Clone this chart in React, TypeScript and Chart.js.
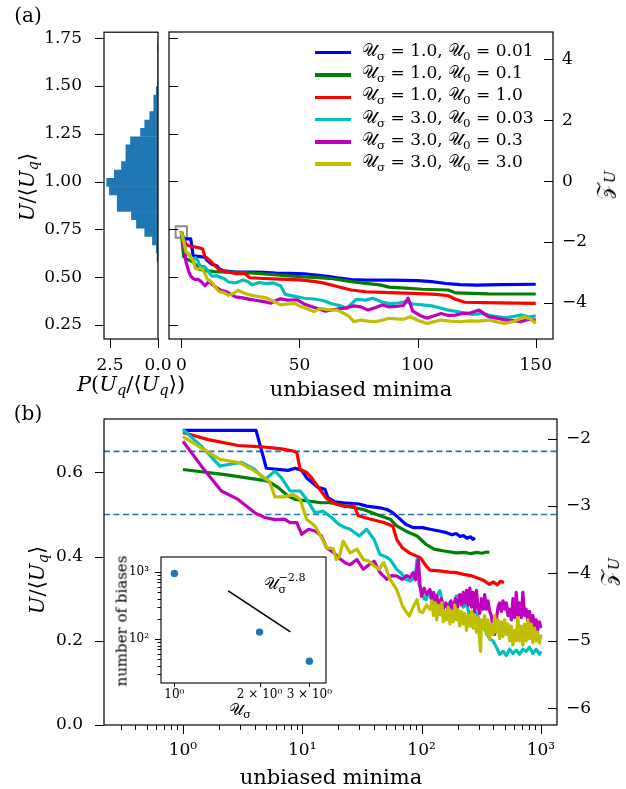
import React, { useEffect, useRef } from 'react';
import { Chart, registerables } from 'chart.js';
Chart.register(...registerables);

const W = 626;
const H = 789;
const FONT = "'DejaVu Serif', 'DejaVu Sans', serif";

// ---------- histogram (panel a, left) ----------
const HIST_CENTERS = [0.604, 0.648, 0.691, 0.735, 0.778, 0.822, 0.865, 0.909, 0.952, 0.996, 1.039, 1.083, 1.126, 1.170, 1.213, 1.257, 1.300, 1.344, 1.387, 1.431, 1.474, 1.518, 1.561, 1.605, 1.648, 1.692, 1.735];
const HIST_VALUES = [0.05, 0.09, 0.29, 0.69, 1.12, 1.38, 2.12, 2.12, 2.53, 2.67, 2.27, 1.9, 1.67, 1.67, 1.43, 0.91, 0.69, 0.43, 0.22, 0.22, 0.09, 0.02, 0.01, 0.01, 0.01, 0.03, 0.01];
const HIST_X_TICKS = [2.5, 0];

// ---------- panel a, main ----------
const U_TICKS_A = [0.25, 0.5, 0.75, 1.0, 1.25, 1.5, 1.75];
const Z_TICKS_A = [4, 2, 0, -2, -4];
const X_TICKS_A = [0, 50, 100, 150];
const SQUARE_A = [[0, 0.736]];

const A_BLUE = [[0,0.74],[1,0.70],[4,0.70],[5,0.612],[8,0.607],[10,0.604],[11,0.587],[13,0.567],[15,0.56],[16,0.545],[18,0.533],[22,0.528],[30,0.527],[35,0.525],[40,0.521],[46,0.52],[52,0.518],[58,0.51],[62,0.505],[66,0.496],[72,0.488],[78,0.485],[89,0.485],[100,0.482],[106,0.477],[112,0.467],[118,0.461],[125,0.459],[135,0.461],[150,0.463]];
const A_GREEN = [[0,0.74],[1,0.607],[2,0.597],[4,0.585],[5,0.58],[6,0.566],[7,0.552],[8,0.54],[11,0.533],[14,0.529],[20,0.526],[28,0.523],[35,0.517],[42,0.51],[50,0.503],[58,0.498],[64,0.492],[68,0.485],[72,0.477],[78,0.468],[84,0.46],[88,0.448],[95,0.443],[102,0.437],[113,0.433],[116,0.418],[130,0.413],[150,0.412]];
const A_RED = [[0,0.74],[1,0.695],[2,0.673],[3,0.664],[5,0.66],[7,0.655],[9,0.648],[10,0.608],[11,0.6],[12,0.588],[14,0.563],[16,0.54],[19,0.527],[23,0.519],[27,0.518],[29,0.497],[35,0.493],[42,0.49],[50,0.486],[56,0.478],[60,0.47],[64,0.458],[68,0.445],[72,0.433],[78,0.424],[88,0.419],[98,0.415],[108,0.41],[113,0.403],[116,0.385],[120,0.369],[135,0.366],[150,0.363]];
const A_CYAN = [[0,0.74],[1,0.70],[2,0.62],[3,0.624],[4,0.607],[5,0.585],[6,0.602],[7,0.587],[8,0.557],[10,0.555],[11,0.537],[13,0.505],[15,0.508],[18,0.493],[20,0.475],[23,0.47],[26,0.485],[28,0.478],[30,0.46],[33,0.472],[36,0.466],[39,0.47],[42,0.455],[44,0.41],[48,0.4],[52,0.39],[56,0.386],[60,0.378],[64,0.36],[67,0.352],[70,0.338],[72,0.36],[74,0.384],[78,0.38],[81,0.39],[85,0.37],[88,0.362],[92,0.365],[95,0.373],[98,0.36],[102,0.355],[106,0.35],[110,0.338],[113,0.328],[118,0.318],[123,0.306],[127,0.31],[131,0.3],[137,0.287],[141,0.295],[144,0.303],[147,0.292],[150,0.298]];
const A_MAGENTA = [[0,0.74],[1,0.674],[2,0.58],[3,0.536],[4,0.505],[5,0.493],[6,0.488],[7,0.489],[8,0.481],[9,0.47],[10,0.455],[11,0.468],[12,0.482],[13,0.462],[15,0.445],[17,0.43],[19,0.425],[21,0.41],[23,0.397],[26,0.392],[29,0.384],[32,0.378],[35,0.372],[38,0.364],[40,0.378],[42,0.387],[45,0.38],[49,0.382],[52,0.36],[55,0.347],[58,0.335],[61,0.322],[64,0.33],[67,0.336],[70,0.34],[73,0.35],[76,0.345],[79,0.328],[82,0.34],[85,0.355],[88,0.345],[91,0.347],[94,0.352],[96,0.39],[98,0.322],[101,0.3],[104,0.286],[107,0.298],[110,0.31],[113,0.3],[116,0.302],[119,0.31],[122,0.312],[126,0.328],[130,0.294],[134,0.285],[137,0.277],[141,0.272],[144,0.268],[147,0.28],[150,0.276]];
const A_YELLOW = [[0,0.74],[1,0.685],[2,0.632],[3,0.623],[4,0.605],[5,0.587],[6,0.545],[7,0.542],[8,0.547],[9,0.54],[10,0.52],[11,0.49],[13,0.472],[14.5,0.445],[16,0.425],[18,0.419],[20,0.405],[22,0.415],[24,0.432],[27,0.415],[30,0.405],[33,0.398],[36,0.392],[38,0.38],[40,0.368],[42,0.355],[45,0.36],[48,0.363],[50,0.35],[53,0.337],[56,0.32],[59,0.337],[62,0.33],[66,0.328],[69,0.31],[71,0.295],[73,0.268],[76,0.276],[79,0.27],[82,0.267],[85,0.275],[88,0.285],[91,0.282],[94,0.28],[97,0.293],[100,0.275],[104,0.258],[107,0.268],[110,0.276],[114,0.27],[118,0.267],[122,0.272],[126,0.27],[130,0.276],[134,0.265],[137,0.258],[141,0.27],[145,0.293],[148,0.28],[150,0.258]];

// ---------- panel b ----------
const U_TICKS_B = [0, 0.2, 0.4, 0.6];
const Z_TICKS_B = [-2, -3, -4, -5, -6];
const X_TICKS_B = [1, 10, 100, 1000];
const X_LABELS_B = ['10\u2070', '10\u00b9', '10\u00b2', '10\u00b3'];
const X_MINOR_B = [0.2, 0.3, 0.4, 0.5, 0.6, 0.7, 0.8, 0.9, 2, 3, 4, 5, 6, 7, 8, 9, 20, 30, 40, 50, 60, 70, 80, 90, 200, 300, 400, 500, 600, 700, 800, 900];
const THRESHOLDS_B = [0.65, 0.5];

const B_BLUE = [[1,0.70],[4.1,0.70],[5,0.61],[7.6,0.605],[8.7,0.61],[9.9,0.605],[10.9,0.587],[13.5,0.565],[15.5,0.56],[16.4,0.54],[18.8,0.53],[22,0.528],[30,0.525],[34.6,0.52],[44.8,0.516],[51.3,0.512],[57.6,0.504],[66,0.489],[73.5,0.477],[85,0.469],[102,0.469],[117.6,0.465],[140,0.461],[162,0.457],[180,0.452],[195,0.455],[210,0.448],[224,0.45],[240,0.444],[258,0.447],[270,0.441],[280,0.445]];
const B_GREEN = [[1,0.607],[2.25,0.595],[4.3,0.583],[5.2,0.579],[6.3,0.564],[7.6,0.544],[8.7,0.536],[11.3,0.532],[14.5,0.528],[17.1,0.528],[23.5,0.52],[32.5,0.512],[44.8,0.497],[54.5,0.489],[61.8,0.473],[73.5,0.461],[91.6,0.449],[108,0.43],[127,0.418],[150,0.414],[195,0.409],[230,0.41],[258,0.407],[290,0.41],[320,0.408],[350,0.411],[370,0.41]];
const B_RED = [[1,0.695],[1.63,0.678],[2.9,0.664],[4.56,0.661],[6.7,0.656],[8.4,0.651],[9,0.647],[9.6,0.607],[10.9,0.6],[12,0.587],[13.6,0.565],[16,0.538],[18.8,0.526],[22.7,0.519],[27.3,0.52],[29.5,0.497],[37.5,0.489],[48.2,0.481],[57.6,0.472],[61.8,0.441],[69,0.421],[79,0.409],[98,0.397],[109,0.378],[117.6,0.368],[140,0.366],[170,0.363],[195,0.362],[225,0.358],[258,0.355],[290,0.35],[330,0.344],[370,0.334],[400,0.34],[430,0.333],[460,0.342],[490,0.338]];
const B_CYAN = [[1,0.702],[1.43,0.662],[2.04,0.615],[2.4,0.619],[3.1,0.624],[4,0.607],[4.86,0.583],[5.9,0.603],[6.7,0.587],[7.9,0.556],[9.6,0.556],[10.9,0.536],[12.8,0.504],[15,0.508],[17.6,0.493],[20,0.478],[22.7,0.469],[25.2,0.465],[30,0.449],[34.6,0.465],[40,0.441],[44.8,0.405],[50,0.4],[54.5,0.393],[61.8,0.37],[68,0.36],[73.5,0.346],[80,0.342],[88,0.35],[91.6,0.393],[95,0.335],[100,0.32],[105,0.3],[109,0.298],[113,0.31],[117.6,0.307],[125,0.29],[133,0.306],[142,0.319],[150,0.29],[162,0.283],[172,0.291],[184,0.275],[195,0.306],[210,0.307],[223,0.28],[240,0.287],[254,0.252],[270,0.27],[290,0.265],[309,0.245],[328,0.235],[349,0.22],[372,0.204],[397,0.2],[423,0.185],[451,0.168],[481,0.175],[513,0.165],[547,0.18],[583,0.17],[621,0.178],[662,0.168],[706,0.18],[753,0.175],[803,0.185],[856,0.17],[912,0.18],[972,0.168],[1000,0.175]];
const B_MAGENTA = [[1,0.674],[1.43,0.615],[2.1,0.556],[2.9,0.536],[4,0.504],[4.86,0.493],[5.9,0.488],[7.1,0.489],[7.9,0.481],[9,0.481],[9.9,0.453],[11.3,0.465],[12.8,0.461],[14.5,0.449],[16,0.421],[18.2,0.41],[20.7,0.395],[23,0.385],[25.2,0.381],[28.7,0.393],[32.5,0.37],[36,0.38],[40,0.389],[44.8,0.362],[51.3,0.346],[56,0.355],[61.8,0.354],[69,0.346],[75,0.355],[80,0.35],[85,0.362],[89,0.345],[94,0.393],[97,0.33],[100,0.306],[105,0.325],[110,0.31],[117.6,0.322],[122,0.30],[126,0.315],[130,0.29],[134,0.307],[140,0.28],[146,0.3],[152,0.275],[160,0.29],[168,0.27],[176,0.295],[184,0.275],[192,0.30],[200,0.28],[209,0.31],[216,0.285],[223,0.315],[230,0.29],[238,0.32],[246,0.285],[254,0.325],[262,0.28],[270,0.315],[279,0.27],[288,0.32],[297,0.28],[307,0.265],[318,0.3],[328,0.275],[338,0.31],[349,0.275],[360,0.295],[372,0.27],[384,0.26],[397,0.23],[410,0.215],[423,0.25],[437,0.28],[451,0.29],[466,0.27],[481,0.295],[497,0.275],[513,0.29],[530,0.26],[547,0.275],[565,0.25],[583,0.3],[602,0.255],[621,0.315],[641,0.26],[662,0.29],[684,0.255],[706,0.315],[730,0.26],[753,0.275],[778,0.245],[803,0.27],[830,0.24],[856,0.26],[884,0.235],[912,0.25],[940,0.225],[972,0.245],[1000,0.23]];
const B_YELLOW = [[1,0.685],[1.43,0.658],[2.04,0.631],[3,0.623],[3.8,0.607],[4.86,0.587],[5.3,0.579],[5.9,0.542],[7.1,0.542],[8.4,0.548],[9.6,0.536],[10.9,0.488],[12.8,0.473],[14.5,0.445],[16,0.421],[18.2,0.419],[19.3,0.393],[20.5,0.4],[22,0.437],[25.2,0.409],[28.7,0.418],[32.5,0.393],[36,0.39],[40,0.378],[44,0.37],[48.2,0.386],[54.5,0.346],[61.8,0.322],[66,0.3],[69,0.283],[74,0.27],[79,0.259],[85,0.28],[91.6,0.298],[96,0.27],[102,0.267],[110,0.285],[117.6,0.275],[122,0.295],[126,0.26],[130,0.29],[134,0.25],[138,0.285],[143,0.262],[148,0.29],[152,0.245],[157,0.27],[162,0.25],[167,0.28],[173,0.24],[178,0.27],[184,0.245],[190,0.285],[196,0.25],[202,0.275],[209,0.235],[216,0.27],[223,0.24],[230,0.265],[238,0.225],[246,0.26],[254,0.235],[262,0.27],[270,0.23],[279,0.26],[288,0.22],[297,0.255],[307,0.2],[312,0.175],[318,0.25],[328,0.23],[338,0.26],[349,0.215],[360,0.25],[372,0.205],[384,0.24],[397,0.215],[410,0.26],[423,0.22],[437,0.25],[451,0.205],[466,0.245],[481,0.21],[497,0.25],[513,0.215],[530,0.24],[547,0.2],[565,0.235],[583,0.19],[602,0.225],[621,0.2],[641,0.255],[662,0.2],[684,0.235],[706,0.19],[730,0.24],[753,0.2],[778,0.25],[803,0.205],[830,0.24],[856,0.195],[884,0.23],[912,0.2],[940,0.22],[972,0.195],[1000,0.215]];

// ---------- inset ----------
const INSET_SIGMA = [1, 2, 3];
const INSET_NBIAS = [953, 127, 46.8];
const FIT_SIGMA = [1.55, 2.57];
const FIT_NBIAS = [525, 128];
const INSET_X_TICKS = [1, 2, 3];
const INSET_X_LABELS = ['10\u2070', '2 \u00d7 10\u2070', '3 \u00d7 10\u2070'];
const INSET_Y_TICKS = [100, 1000];
const INSET_Y_LABELS = ['10\u00b2', '10\u00b3'];
const INSET_Y_MINOR = [30, 40, 50, 60, 70, 80, 90, 200, 300, 400, 500, 600, 700, 800, 900];

// ---------- series styling ----------
const COLORS = ['#0000ff', '#008000', '#ff0000', '#00bfbf', '#bf00bf', '#bfbf00'];
const SIGMA_LABELS = ['1.0', '1.0', '1.0', '3.0', '3.0', '3.0'];
const U0_LABELS = ['0.01', '0.1', '1.0', '0.03', '0.3', '3.0'];
const A_SERIES = [A_BLUE, A_GREEN, A_RED, A_CYAN, A_MAGENTA, A_YELLOW];
const B_SERIES = [B_BLUE, B_GREEN, B_RED, B_CYAN, B_MAGENTA, B_YELLOW];

const minus = (v: number, d: number) => (v < 0 ? '\u2212' : '') + Math.abs(v).toFixed(d);

type TickSpec = { axis: string; side: 'left' | 'right' | 'bottom'; values: number[]; len: number; inward?: boolean };
type DecoSpec = { ticks: TickSpec[]; hlines?: { axis: string; values: number[]; color: string; dash: number[]; width: number }[]; fill?: string; lw?: number };

function deco(spec: DecoSpec) {
  return {
    id: 'deco',
    beforeDraw(chart: any) {
      if (!spec.fill) return;
      const { ctx, chartArea: a } = chart;
      ctx.save();
      ctx.fillStyle = spec.fill;
      ctx.fillRect(a.left, a.top, a.right - a.left, a.bottom - a.top);
      ctx.restore();
    },
    beforeDatasetsDraw(chart: any) {
      if (!spec.hlines) return;
      const { ctx, chartArea: a } = chart;
      ctx.save();
      for (const h of spec.hlines) {
        const sc = chart.scales[h.axis];
        ctx.strokeStyle = h.color;
        ctx.lineWidth = h.width;
        ctx.setLineDash(h.dash);
        for (const v of h.values) {
          const y = sc.getPixelForValue(v);
          ctx.beginPath();
          ctx.moveTo(a.left, y);
          ctx.lineTo(a.right, y);
          ctx.stroke();
        }
      }
      ctx.restore();
    },
    afterDraw(chart: any) {
      const { ctx, chartArea: a } = chart;
      ctx.save();
      ctx.strokeStyle = '#000';
      ctx.lineWidth = spec.lw ?? 1.2;
      ctx.setLineDash([]);
      ctx.strokeRect(a.left, a.top, a.right - a.left, a.bottom - a.top);
      ctx.lineWidth = 1;
      ctx.beginPath();
      for (const t of spec.ticks) {
        const sc = chart.scales[t.axis];
        for (const v of t.values) {
          if (v < sc.min || v > sc.max) continue;
          const p = Math.round(sc.getPixelForValue(v)) + 0.5;
          if (t.side === 'left') {
            ctx.moveTo(a.left, p);
            ctx.lineTo(a.left + (t.inward ? t.len : -t.len), p);
          } else if (t.side === 'right') {
            ctx.moveTo(a.right, p);
            ctx.lineTo(a.right + (t.inward ? -t.len : t.len), p);
          } else {
            ctx.moveTo(p, a.bottom);
            ctx.lineTo(p, a.bottom + (t.inward ? -t.len : t.len));
          }
        }
      }
      ctx.stroke();
      ctx.restore();
    },
  };
}

function axis(o: { type: string; min: number; max: number; position: string; ticks: number[]; label: (v: number, i: number) => string; size: number; prop: 'width' | 'height'; padding: number; font: number; show?: boolean; reverse?: boolean }) {
  return {
    type: o.type,
    min: o.min,
    max: o.max,
    position: o.position,
    reverse: !!o.reverse,
    offset: false,
    bounds: 'data',
    grid: { display: false, drawTicks: false, drawOnChartArea: false, offset: false },
    border: { display: false },
    afterBuildTicks: (s: any) => {
      s.ticks = o.ticks.map((v) => ({ value: v }));
    },
    afterFit: (s: any) => {
      s[o.prop] = o.size;
    },
    ticks: {
      display: o.show !== false,
      autoSkip: false,
      maxRotation: 0,
      minRotation: 0,
      padding: o.padding,
      color: '#000',
      font: { family: FONT, size: o.font },
      callback: (v: any, i: number) => o.label(Number(v), i),
    },
  };
}

const base = (pad: { left: number; right: number; top: number; bottom: number }) => ({
  responsive: false,
  maintainAspectRatio: false,
  animation: false as const,
  devicePixelRatio: 1,
  events: [] as any[],
  layout: { padding: pad },
  plugins: { legend: { display: false }, tooltip: { enabled: false }, title: { display: false } },
});

const lineSets = (series: number[][][], width: number) =>
  series.map((pts, i) => ({
    type: 'line',
    data: pts.map(([x, y]) => ({ x, y })),
    borderColor: COLORS[i],
    backgroundColor: COLORS[i],
    borderWidth: width,
    pointRadius: 0,
    tension: 0,
    fill: false,
    borderJoinStyle: 'round',
    order: series.length - i,
    yAxisID: 'y',
  }));

function histConfig(): any {
  return {
    type: 'bar',
    data: {
      datasets: [
        {
          data: HIST_CENTERS.map((c, i) => ({ x: HIST_VALUES[i], y: c })),
          backgroundColor: '#1f77b4',
          borderWidth: 0,
          categoryPercentage: 1,
          barPercentage: 1,
        },
      ],
    },
    options: {
      ...base({ left: 0, right: W - 158, top: 32, bottom: H - 339 - 40 }),
      indexAxis: 'y',
      scales: {
        x: axis({ type: 'linear', min: 0, max: 2.81, position: 'bottom', reverse: true, ticks: HIST_X_TICKS, label: (v) => v.toFixed(1), size: 40, prop: 'height', padding: 16, font: 17 }),
        y: axis({ type: 'linear', min: 0.177, max: 1.781, position: 'left', ticks: U_TICKS_A, label: (v) => v.toFixed(2), size: 104, prop: 'width', padding: 22, font: 17 }),
      },
    },
    plugins: [
      deco({
        ticks: [
          { axis: 'x', side: 'bottom', values: HIST_X_TICKS, len: 9 },
          { axis: 'y', side: 'left', values: U_TICKS_A, len: 9 },
        ],
      }),
    ],
  };
}

function mainAConfig(): any {
  return {
    type: 'line',
    data: {
      datasets: [
        ...lineSets(A_SERIES, 3.2),
        {
          type: 'line',
          data: SQUARE_A.map(([x, y]) => ({ x, y })),
          showLine: false,
          pointStyle: 'rect',
          pointRadius: 8,
          pointBorderWidth: 2,
          pointBorderColor: '#8c8c8c',
          pointBackgroundColor: 'rgba(0,0,0,0)',
          order: 20,
          yAxisID: 'y',
        },
      ],
    },
    options: {
      ...base({ left: 0, right: 0, top: 32, bottom: H - 339 - 40 }),
      scales: {
        x: axis({ type: 'linear', min: -5.2, max: 157.3, position: 'bottom', ticks: X_TICKS_A, label: (v) => String(v), size: 40, prop: 'height', padding: 16, font: 17 }),
        y: axis({ type: 'linear', min: 0.177, max: 1.781, position: 'left', ticks: U_TICKS_A, label: () => '', size: 169, prop: 'width', padding: 0, font: 17, show: false }),
        z: axis({ type: 'linear', min: -5.18, max: 4.89, position: 'right', ticks: Z_TICKS_A, label: (v) => minus(v, 0), size: W - 553, prop: 'width', padding: 9, font: 17 }),
      },
    },
    plugins: [
      deco({
        ticks: [
          { axis: 'x', side: 'bottom', values: X_TICKS_A, len: 9 },
          { axis: 'y', side: 'left', values: U_TICKS_A, len: 9, inward: true },
          { axis: 'z', side: 'right', values: Z_TICKS_A, len: 9, inward: true },
        ],
      }),
    ],
  };
}

function mainBConfig(): any {
  return {
    type: 'line',
    data: { datasets: lineSets(B_SERIES, 3.2) },
    options: {
      ...base({ left: 0, right: 0, top: 419, bottom: H - 725 - 40 }),
      scales: {
        x: axis({ type: 'logarithmic', min: 0.218, max: 1364, position: 'bottom', ticks: X_TICKS_B, label: (_v, i) => X_LABELS_B[i], size: 40, prop: 'height', padding: 15, font: 17 }),
        y: axis({ type: 'linear', min: 0, max: 0.727, position: 'left', ticks: U_TICKS_B, label: (v) => v.toFixed(1), size: 104, prop: 'width', padding: 21, font: 17 }),
        z: axis({ type: 'linear', min: -6.25, max: -1.71, position: 'right', ticks: Z_TICKS_B, label: (v) => minus(v, 0), size: W - 557, prop: 'width', padding: 9, font: 17 }),
      },
    },
    plugins: [
      deco({
        hlines: [{ axis: 'y', values: THRESHOLDS_B, color: '#1f77b4', dash: [6, 3.5], width: 1.6 }],
        ticks: [
          { axis: 'x', side: 'bottom', values: X_TICKS_B, len: 9 },
          { axis: 'x', side: 'bottom', values: X_MINOR_B, len: 5 },
          { axis: 'y', side: 'left', values: U_TICKS_B, len: 9 },
          { axis: 'z', side: 'right', values: Z_TICKS_B, len: 9, inward: true },
        ],
      }),
    ],
  };
}

function insetConfig(): any {
  return {
    type: 'line',
    data: {
      datasets: [
        {
          type: 'line',
          data: INSET_SIGMA.map((x, i) => ({ x, y: INSET_NBIAS[i] })),
          showLine: false,
          pointRadius: 3.7,
          pointBorderWidth: 0,
          pointBackgroundColor: '#1f77b4',
          borderColor: '#1f77b4',
          order: 1,
        },
        {
          type: 'line',
          data: FIT_SIGMA.map((x, i) => ({ x, y: FIT_NBIAS[i] })),
          borderColor: '#000',
          borderWidth: 1.6,
          pointRadius: 0,
          order: 2,
        },
      ],
    },
    options: {
      ...base({ left: 0, right: W - 326, top: 557, bottom: H - 683 - 40 }),
      scales: {
        x: axis({ type: 'logarithmic', min: 0.897, max: 3.435, position: 'bottom', ticks: INSET_X_TICKS, label: (_v, i) => INSET_X_LABELS[i], size: 40, prop: 'height', padding: 5, font: 12 }),
        y: axis({ type: 'logarithmic', min: 22.1, max: 1679, position: 'left', ticks: INSET_Y_TICKS, label: (_v, i) => INSET_Y_LABELS[i], size: 161, prop: 'width', padding: 12, font: 12 }),
      },
    },
    plugins: [
      deco({
        fill: '#ffffff',
        lw: 1.1,
        ticks: [
          { axis: 'x', side: 'bottom', values: INSET_X_TICKS, len: 4 },
          { axis: 'y', side: 'left', values: INSET_Y_TICKS, len: 6 },
          { axis: 'y', side: 'left', values: INSET_Y_MINOR, len: 3.5 },
        ],
      }),
    ],
  };
}

const Sb = ({ children }: { children: any }) => (
  <span style={{ fontSize: '0.7em', verticalAlign: '-0.3em' }}>{children}</span>
);

const T = ({ x, y, size = 21, rot = false, children }: { x: number; y: number; size?: number; rot?: boolean; children: any }) => (
  <div
    style={{
      position: 'absolute',
      left: x,
      top: y,
      transform: `translate(-50%, -50%)${rot ? ' rotate(-90deg)' : ''}`,
      fontSize: size,
      lineHeight: 1,
      whiteSpace: 'nowrap',
      color: '#000',
      pointerEvents: 'none',
    }}
  >
    {children}
  </div>
);

const CAL_U = '\u{1D4B0}';
const CAL_Z = '\u{1D4B5}';

const UOverUq = () => (
  <span>
    <i>U</i>/⟨<i>U</i>
    <Sb>
      <i>q</i>
    </Sb>
    ⟩
  </span>
);

export default function App() {
  const r1 = useRef<HTMLCanvasElement>(null);
  const r2 = useRef<HTMLCanvasElement>(null);
  const r3 = useRef<HTMLCanvasElement>(null);
  const r4 = useRef<HTMLCanvasElement>(null);

  useEffect(() => {
    const charts = [
      new Chart(r1.current as HTMLCanvasElement, histConfig()),
      new Chart(r2.current as HTMLCanvasElement, mainAConfig()),
      new Chart(r3.current as HTMLCanvasElement, mainBConfig()),
      new Chart(r4.current as HTMLCanvasElement, insetConfig()),
    ];
    return () => charts.forEach((c) => c.destroy());
  }, []);

  const cv = { position: 'absolute' as const, left: 0, top: 0, width: W, height: H };

  return (
    <div style={{ position: 'absolute', left: 0, top: 0, width: W, height: H, background: '#fff', overflow: 'hidden', fontFamily: FONT }}>
      <canvas ref={r1} width={W} height={H} style={cv} />
      <canvas ref={r2} width={W} height={H} style={cv} />
      <canvas ref={r3} width={W} height={H} style={cv} />
      <canvas ref={r4} width={W} height={H} style={cv} />

      <T x={28} y={15} size={20}>(a)</T>
      <T x={28} y={413} size={20}>(b)</T>

      <T x={29} y={187} rot>
        <UOverUq />
      </T>
      <T x={131} y={386}>
        <span>
          <i>P</i>(<i>U</i>
          <Sb>
            <i>q</i>
          </Sb>
          /⟨<i>U</i>
          <Sb>
            <i>q</i>
          </Sb>
          ⟩)
        </span>
      </T>
      <T x={361} y={389}>unbiased minima</T>
      <T x={606} y={185} rot>
        {CAL_Z}
        <Sb>
          <i>U</i>
        </Sb>
      </T>

      <T x={39} y={580} rot>
        <UOverUq />
      </T>
      <T x={331} y={777}>unbiased minima</T>
      <T x={610} y={572} rot>
        {CAL_Z}
        <Sb>
          <i>U</i>
        </Sb>
      </T>

      <T x={122} y={621} size={15} rot>number of biases</T>
      <T x={240} y={711} size={16}>
        {CAL_U}
        <Sb>σ</Sb>
      </T>
      <T x={285} y={584} size={16}>
        <span style={{ display: 'inline-flex', alignItems: 'center' }}>
          {CAL_U}
          <span style={{ display: 'inline-flex', flexDirection: 'column', fontSize: '0.7em', lineHeight: 1.05 }}>
            <span>{'\u22122.8'}</span>
            <span>σ</span>
          </span>
        </span>
      </T>

      <div style={{ position: 'absolute', left: 315, top: 52.7 - 11.15, pointerEvents: 'none' }}>
        {COLORS.map((c, i) => (
          <div key={i} style={{ display: 'flex', alignItems: 'center', height: 22.3 }}>
            <div style={{ width: 36, height: 3.5, background: c, marginRight: 11 }} />
            <div style={{ fontSize: 17, lineHeight: '22.3px', whiteSpace: 'nowrap' }}>
              {CAL_U}
              <Sb>σ</Sb> = {SIGMA_LABELS[i]}, {CAL_U}
              <Sb>0</Sb> = {U0_LABELS[i]}
            </div>
          </div>
        ))}
      </div>
    </div>
  );
}
